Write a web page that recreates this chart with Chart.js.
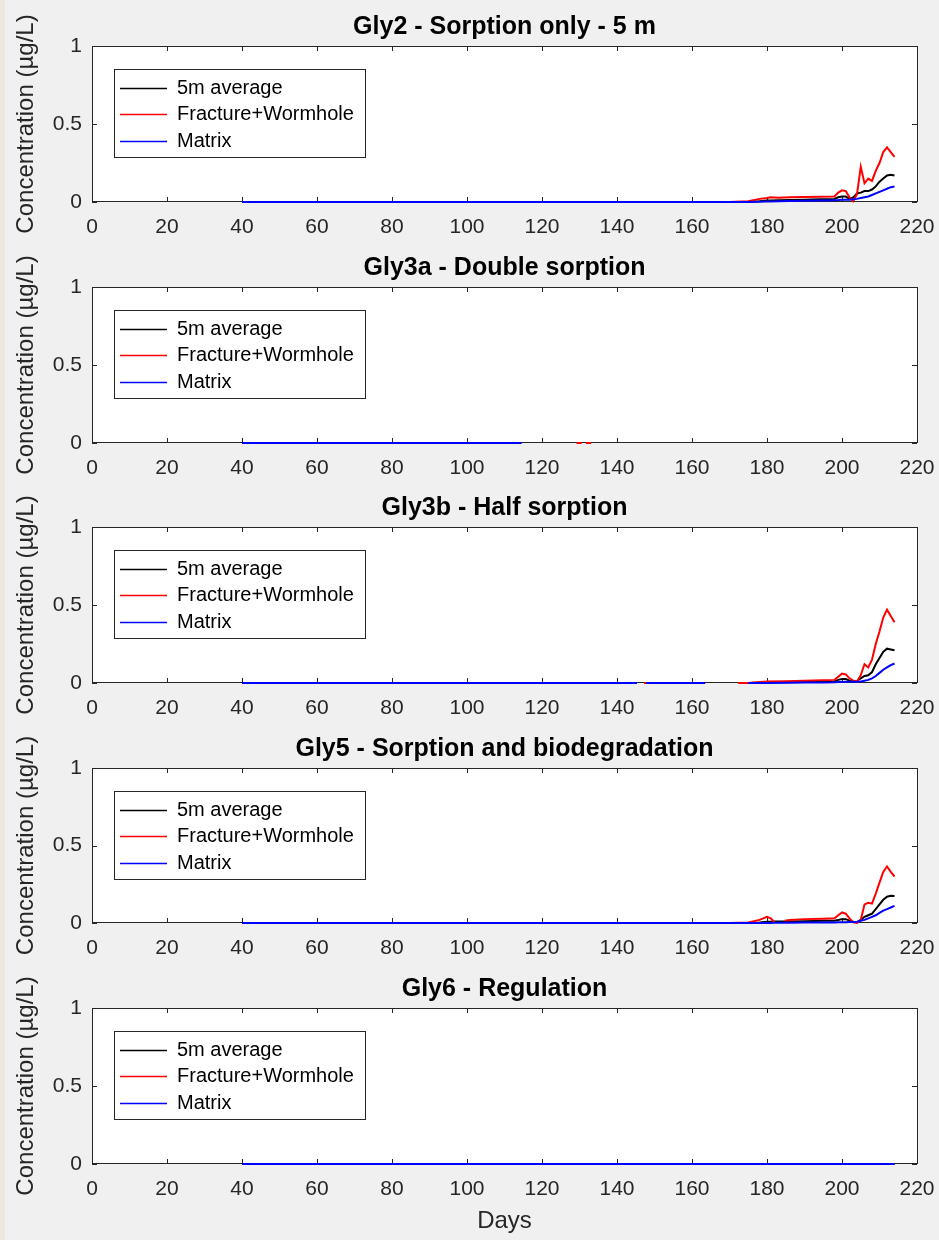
<!DOCTYPE html>
<html>
<head>
<meta charset="utf-8">
<script src="https://cdn.jsdelivr.net/npm/chart.js@4"></script>
<style>
  html, body { margin: 0; padding: 0; background: #f0f0f0; }
  body { width: 939px; height: 1240px; position: relative; overflow: hidden; }
  #strip { position: absolute; left: 0; top: 0; width: 5px; height: 1240px; background: #ebe9df; }
  canvas { position: absolute; left: 0; }
</style>
</head>
<body>
<div id="strip"></div>
<canvas id="c1" width="939" height="242" style="top:0px"></canvas>
<canvas id="c2" width="939" height="242" style="top:241px"></canvas>
<canvas id="c3" width="939" height="242" style="top:481px"></canvas>
<canvas id="c4" width="939" height="241" style="top:722px"></canvas>
<canvas id="c5" width="939" height="278" style="top:962px"></canvas>
<script>
// Etiquetas comunes
const seriesLabels = ['5m average', 'Fracture+Wormhole', 'Matrix'];
const xTicks = [0, 20, 40, 60, 80, 100, 120, 140, 160, 180, 200, 220];
const yTicks = [0, 0.5, 1];

// Gly2 - Sorption only - 5 m
const daysGly2 = [40, 170, 175, 178, 180, 181, 183, 186, 190, 194, 198, 199, 200, 201, 202, 203, 204, 205, 206, 207, 208, 209, 210, 211, 212, 213, 214];
const avgGly2 = [0, 0, 0, 0.005, 0.01, 0.01, 0.012, 0.013, 0.015, 0.018, 0.02, 0.03, 0.035, 0.035, 0.02, 0.03, 0.055, 0.06, 0.07, 0.07, 0.08, 0.1, 0.13, 0.15, 0.17, 0.175, 0.17];
const fracGly2 = [0, 0, 0.005, 0.02, 0.025, 0.03, 0.028, 0.03, 0.032, 0.034, 0.035, 0.06, 0.075, 0.07, 0.03, 0.005, 0.05, 0.225, 0.12, 0.15, 0.135, 0.2, 0.25, 0.32, 0.35, 0.32, 0.29];
const matGly2 = [0, 0, 0, 0.002, 0.003, 0.004, 0.005, 0.006, 0.008, 0.01, 0.012, 0.013, 0.015, 0.015, 0.015, 0.017, 0.02, 0.025, 0.03, 0.035, 0.045, 0.055, 0.065, 0.075, 0.085, 0.095, 0.1];

// Gly3a - Double sorption
const daysGly3a = [40, 114.5, 115, 129.2, 130.6, 131.1, 131.7, 133.1];
const avgGly3a = [0, 0, null, null, null, null, null, null];
const fracGly3a = [null, null, null, 0, 0, null, 0, 0];
const matGly3a = [0, 0, null, null, null, null, null, null];

// Gly3b - Half sorption
const daysGly3b = [40, 145.3, 146, 147.2, 147.8, 163.5, 168, 172.3, 175, 180, 185, 190, 195, 198, 199, 200, 201, 202, 203, 204, 205, 206, 207, 208, 209, 210, 211, 212, 213, 214];
const avgGly3b = [0, 0, null, null, 0, 0, null, null, 0, 0.003, 0.005, 0.006, 0.008, 0.01, 0.02, 0.025, 0.025, 0.015, 0.01, 0.012, 0.03, 0.045, 0.05, 0.07, 0.12, 0.16, 0.2, 0.22, 0.215, 0.21];
const fracGly3b = [null, null, null, 0, 0, null, null, 0, 0, 0.01, 0.012, 0.015, 0.018, 0.02, 0.04, 0.06, 0.055, 0.03, 0.015, 0.01, 0.05, 0.12, 0.1, 0.15, 0.25, 0.33, 0.42, 0.47, 0.43, 0.39];
const matGly3b = [0, 0, null, null, 0, 0, null, null, 0, 0, 0.002, 0.003, 0.004, 0.005, 0.006, 0.007, 0.008, 0.008, 0.008, 0.008, 0.01, 0.015, 0.02, 0.03, 0.045, 0.065, 0.085, 0.1, 0.115, 0.125];

// Gly5 - Sorption and biodegradation
const daysGly5 = [40, 170, 175, 178, 180, 181, 182, 183, 184.8, 186, 190, 195, 198, 199, 200, 201, 202, 203, 204, 205, 206, 207, 208, 209, 210, 211, 212, 213, 214];
const avgGly5 = [0, 0, 0, 0.004, 0.008, 0.008, 0.009, 0.009, 0.01, 0.01, 0.012, 0.014, 0.015, 0.02, 0.025, 0.025, 0.015, 0.008, 0.005, 0.02, 0.04, 0.05, 0.06, 0.09, 0.12, 0.15, 0.17, 0.175, 0.174];
const fracGly5 = [0, 0, 0.003, 0.02, 0.04, 0.03, 0.005, null, 0.015, 0.02, 0.025, 0.028, 0.03, 0.05, 0.068, 0.06, 0.03, 0.005, 0, 0.02, 0.12, 0.13, 0.125, 0.19, 0.26, 0.33, 0.365, 0.33, 0.3];
const matGly5 = [0, 0, 0, 0, 0, 0, 0.001, 0.001, 0.002, 0.002, 0.003, 0.004, 0.004, 0.005, 0.005, 0.005, 0.006, 0.007, 0.008, 0.015, 0.02, 0.03, 0.04, 0.05, 0.065, 0.08, 0.09, 0.1, 0.11];

// Gly6 - Regulation
const daysGly6 = [40, 214];
const avgGly6 = [0, 0];
const fracGly6 = [0, 0];
const matGly6 = [0, 0];

const FONT = '"Liberation Sans", Arial, sans-serif';
const seriesColors = ['#000000', '#ff0000', '#0000ff'];
const axisColor = '#262626';

// Caja estilo MATLAB con marcas hacia dentro
const boxPlugin = {
    id: 'matlabBox',
    beforeDatasetsDraw(chart) {
        const { ctx, chartArea: a, scales } = chart;
        ctx.save();
        ctx.fillStyle = '#ffffff';
        ctx.fillRect(a.left, a.top, a.right - a.left, a.bottom - a.top);
        ctx.strokeStyle = axisColor;
        ctx.lineWidth = 1;
        ctx.strokeRect(Math.round(a.left) + 0.5, Math.round(a.top) + 0.5,
            Math.round(a.right - a.left), Math.round(a.bottom - a.top) - 1);
        const len = 5;
        ctx.beginPath();
        xTicks.forEach(v => {
            const px = Math.round(scales.x.getPixelForValue(v)) + 0.5;
            ctx.moveTo(px, a.bottom); ctx.lineTo(px, a.bottom - len);
            ctx.moveTo(px, a.top); ctx.lineTo(px, a.top + len);
        });
        yTicks.forEach(v => {
            const py = Math.round(scales.y.getPixelForValue(v)) + 0.5;
            ctx.moveTo(a.left, py); ctx.lineTo(a.left + len, py);
            ctx.moveTo(a.right, py); ctx.lineTo(a.right - len, py);
        });
        ctx.stroke();
        ctx.restore();
    },
    afterDraw(chart) {
        // Leyenda dentro del área del gráfico
        const { ctx, chartArea: a } = chart;
        const x0 = a.left + 22, y0 = a.top + 23;
        ctx.save();
        ctx.fillStyle = '#ffffff';
        ctx.fillRect(x0, y0, 251, 88);
        ctx.strokeStyle = axisColor;
        ctx.lineWidth = 1;
        ctx.strokeRect(Math.round(x0) + 0.5, Math.round(y0) + 0.5, 251, 88);
        ctx.font = '20px ' + FONT;
        ctx.textBaseline = 'middle';
        const rows = [19, 45, 72];
        chart.data.datasets.forEach((ds, i) => {
            const y = y0 + rows[i];
            ctx.strokeStyle = ds.borderColor;
            ctx.lineWidth = 1.3;
            ctx.beginPath();
            ctx.moveTo(x0 + 6, y + 0.5); ctx.lineTo(x0 + 53, y + 0.5);
            ctx.stroke();
            ctx.fillStyle = '#000000';
            ctx.fillText(ds.label, x0 + 63, y);
        });
        ctx.restore();
    }
};

function makePanel(id, title, days, series, showXTitle) {
    const datasets = series.map((vals, i) => ({
        label: seriesLabels[i],
        data: days.map((d, k) => ({ x: d, y: vals[k] })),
        borderColor: seriesColors[i],
        borderWidth: 2,
        pointRadius: 0,
        spanGaps: false,
        clip: 4,
        order: 3 - i
    }));

    new Chart(document.getElementById(id), {
        type: 'line',
        data: { datasets: datasets },
        options: {
            responsive: false,
            animation: false,
            layout: { padding: { left: 0, right: 22, top: 0, bottom: 0 } },
            scales: {
                x: {
                    type: 'linear',
                    min: 0,
                    max: 220,
                    afterFit(scale) {
                        scale.height = showXTitle ? 76 : 40;
                        scale.paddingLeft = 0;
                        scale.paddingRight = 0;
                    },
                    afterBuildTicks(scale) { scale.ticks = xTicks.map(v => ({ value: v })); },
                    grid: { display: false, drawTicks: false },
                    border: { display: false },
                    ticks: { color: axisColor, font: { family: FONT, size: 21 }, padding: 13, maxRotation: 0 },
                    title: {
                        display: showXTitle,
                        text: 'Days',
                        color: axisColor,
                        font: { family: FONT, size: 24 },
                        padding: { top: 0, bottom: 4 }
                    }
                },
                y: {
                    min: 0,
                    max: 1,
                    afterFit(scale) { scale.width = 92; },
                    afterBuildTicks(scale) { scale.ticks = yTicks.map(v => ({ value: v })); },
                    grid: { display: false, drawTicks: false },
                    border: { display: false },
                    ticks: {
                        color: axisColor,
                        font: { family: FONT, size: 21 },
                        padding: 10,
                        callback: v => String(v)
                    },
                    title: {
                        display: true,
                        text: 'Concentration (µg/L)',
                        color: axisColor,
                        font: { family: FONT, size: 24 },
                        padding: { top: 12, bottom: 0 }
                    }
                }
            },
            plugins: {
                legend: { display: false },
                tooltip: { enabled: false },
                title: {
                    display: true,
                    text: title,
                    fullSize: false,
                    color: '#000000',
                    font: { family: FONT, size: 25, weight: 'bold' },
                    padding: { top: 12, bottom: 4 }
                }
            }
        },
        plugins: [boxPlugin]
    });
}

makePanel('c1', 'Gly2 - Sorption only - 5 m', daysGly2, [avgGly2, fracGly2, matGly2], false);
makePanel('c2', 'Gly3a - Double sorption', daysGly3a, [avgGly3a, fracGly3a, matGly3a], false);
makePanel('c3', 'Gly3b - Half sorption', daysGly3b, [avgGly3b, fracGly3b, matGly3b], false);
makePanel('c4', 'Gly5 - Sorption and biodegradation', daysGly5, [avgGly5, fracGly5, matGly5], false);
makePanel('c5', 'Gly6 - Regulation', daysGly6, [avgGly6, fracGly6, matGly6], true);
</script>
</body>
</html>
